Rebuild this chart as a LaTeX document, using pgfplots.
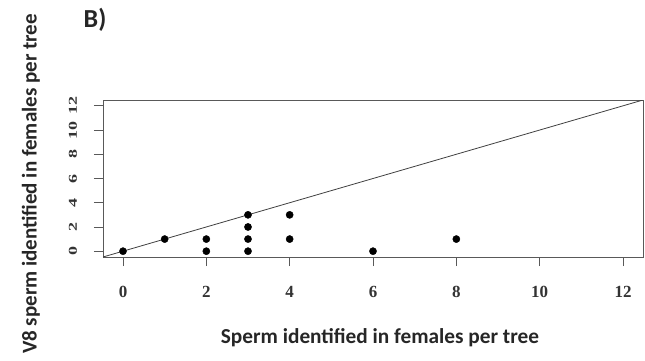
\documentclass[border=0pt]{standalone}
\usepackage{pgfplots}
\pgfplotsset{compat=1.18}
\usepackage{fontspec}
\setmainfont{Liberation Serif}
\newfontfamily\labelfont{Carlito}

\begin{document}
\begin{tikzpicture}
\path[use as bounding box] (0pt,0pt) rectangle (645pt,360pt);
\begin{axis}[
  at={(103pt,103pt)}, anchor=south west,
  scale only axis, width=540pt, height=157pt,
  xmin=-0.48, xmax=12.48, ymin=-0.48, ymax=12.48,
  xtick={0,2,...,12}, ytick={0,2,...,12},
  axis line style={black!65, line width=0.8pt},
  tick style={black!65, line width=0.8pt},
  tick align=outside, major tick length=9pt,
  xtick pos=bottom, ytick pos=left,
  /pgf/number format/assume math mode=true,
  xticklabel style={font=\fontsize{17}{18}\selectfont\bfseries, text=black!80,
    anchor=center, yshift=-26pt},
  yticklabel style={font=\fontsize{12}{13}\selectfont\bfseries, text=black!80,
    anchor=center, xshift=-21pt, rotate=90, xscale=1.5},
  clip=true,
]
\addplot[black!75, line width=0.8pt] coordinates {(-0.48,-0.48) (12.48,12.48)};
\addplot[only marks, mark=*, mark size=3.6pt, black] coordinates {
  (0,0) (1,1) (2,0) (2,1) (3,0) (3,1) (3,2) (3,3) (4,1) (4,3) (6,0) (8,1)
};
\end{axis}
\node[font=\labelfont\fontsize{21.3}{23}\selectfont\bfseries, text=black!85] at (380pt,22pt) {Sperm identified in females per tree};
\node[font=\labelfont\fontsize{21}{23}\selectfont\bfseries, text=black!85, rotate=90] at (31pt,176pt) {V8 sperm identified in females per tree};
\node[font=\labelfont\fontsize{26}{28}\selectfont\bfseries, text=black!85] at (95pt,340pt) {B)};
\end{tikzpicture}
\end{document}
